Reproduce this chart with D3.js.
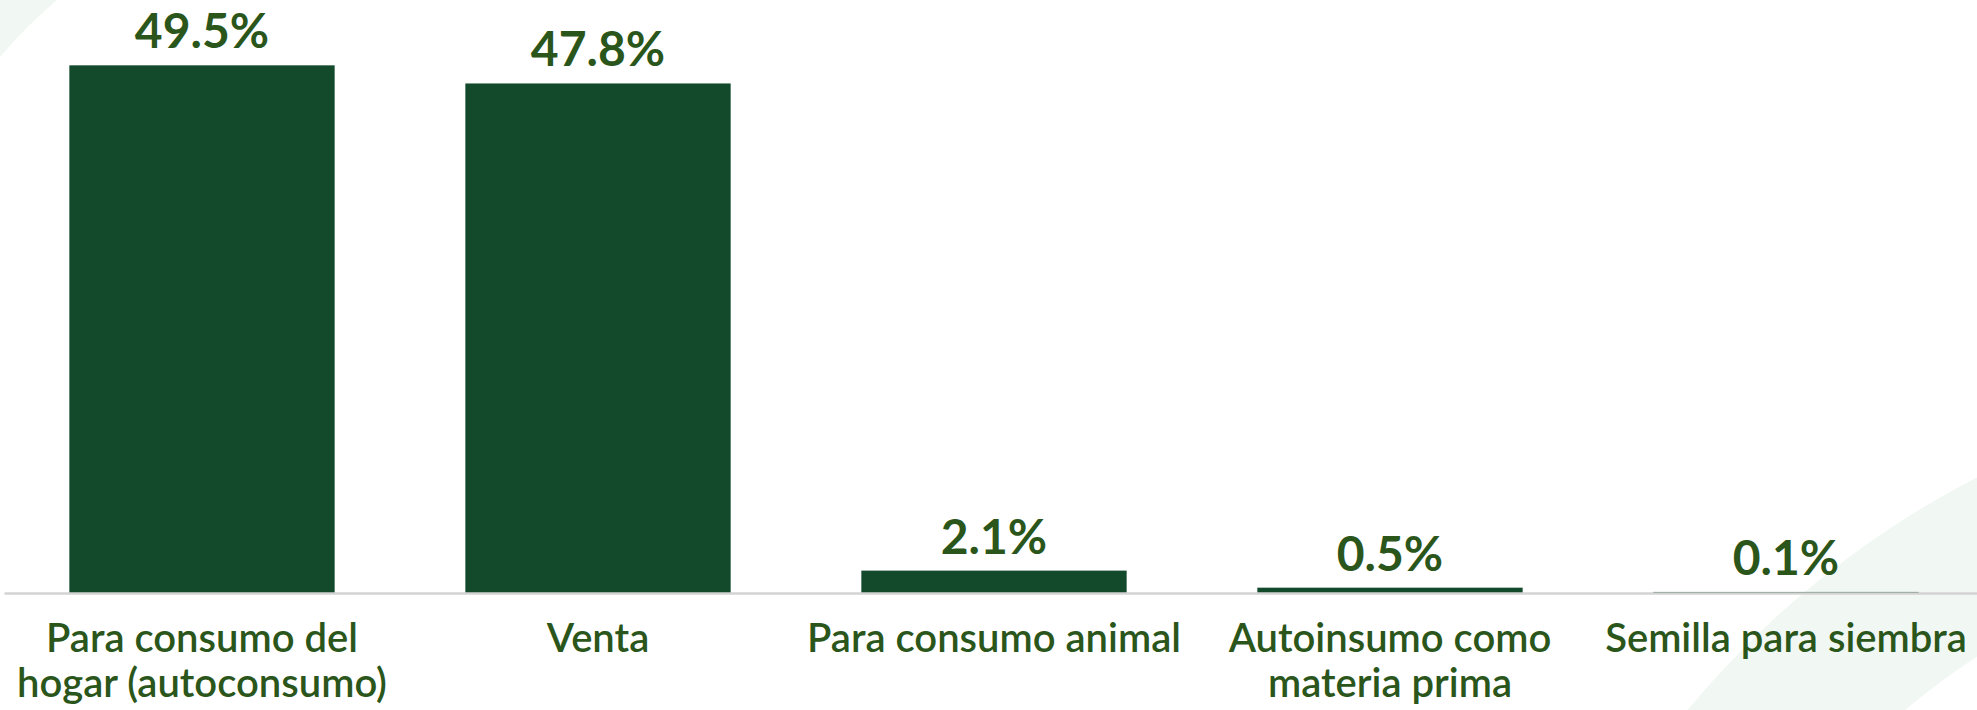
<!DOCTYPE html>
<meta charset="utf-8">
<script src="https://d3js.org/d3.v7.min.js"></script>
<style>
  body { margin: 0; background: #fff; }
  svg { display: block; font-family: Lato, "Open Sans", sans-serif; }
</style>
<div id="my_dataviz"></div>
<script>

// data
var categories = ["Para consumo del hogar (autoconsumo)", "Venta", "Para consumo animal", "Autoinsumo como materia prima", "Semilla para siembra"]
var values = [49.5, 47.8, 2.1, 0.5, 0.1]
var valueLabels = ["49.5%", "47.8%", "2.1%", "0.5%", "0.1%"]

var width = 1977,
    height = 710,
    baseline = 593

var svg = d3.select("#my_dataviz")
  .append("svg")
    .attr("width", width)
    .attr("height", height)

// faint decorative rings in the corners
var ring = d3.arc()
svg.append("path")
  .attr("transform", "translate(400,400)")
  .attr("d", ring({innerRadius: 527, outerRadius: 760, startAngle: -Math.PI / 2, endAngle: 0}))
  .attr("fill", "#f1f7f3")
svg.append("path")
  .attr("transform", "translate(2400,1300)")
  .attr("d", ring({innerRadius: 770, outerRadius: 925, startAngle: -Math.PI / 2, endAngle: 0}))
  .attr("fill", "#f1f7f3")

// scales
var x = d3.scaleBand()
  .domain(categories)
  .range([4, 1984])
  .paddingInner(0.33)
  .paddingOuter(0.165)

var y = d3.scaleLinear()
  .domain([0, 50])
  .range([baseline, 60])

// bars
svg.selectAll("rect.bar")
  .data(values)
  .enter()
  .append("rect")
    .attr("class", "bar")
    .attr("x", function(d, i) { return x(categories[i]) })
    .attr("width", x.bandwidth())
    .attr("y", function(d) { return y(d) })
    .attr("height", function(d) { return baseline - y(d) })
    .attr("fill", "#134a2b")

// value labels
svg.selectAll("text.val")
  .data(values)
  .enter()
  .append("text")
    .attr("class", "val")
    .attr("x", function(d, i) { return x(categories[i]) + x.bandwidth() / 2 })
    .attr("y", function(d) { return y(d) - 17 })
    .attr("text-anchor", "middle")
    .style("font-size", "48px")
    .style("font-weight", "bold")
    .attr("fill", "#2b561b")
    .text(function(d, i) { return valueLabels[i] })

// x axis
var axis = svg.append("g")
  .attr("transform", "translate(0," + baseline + ")")
  .call(d3.axisBottom(x).tickSize(0).tickPadding(31))

axis.select(".domain")
  .attr("stroke", "#d3d3d3")
  .attr("stroke-width", 2.5)

axis.selectAll(".tick text")
  .attr("fill", "#2b561b")
  .style("font-size", "40px")
  .style("font-weight", "600")
  .style("font-family", "Lato, 'Open Sans', sans-serif")
  .call(wrap, 400)

function wrap(text, w) {
  text.each(function() {
    var t = d3.select(this),
        words = t.text().split(/\s+/),
        yy = t.attr("y"),
        line = [],
        lineNo = 0
    t.text(null)
    var tspan = t.append("tspan").attr("x", 0).attr("y", yy).attr("dy", "0.71em")
    words.forEach(function(word) {
      line.push(word)
      tspan.text(line.join(" "))
      if (tspan.node().getComputedTextLength() > w && line.length > 1) {
        line.pop()
        tspan.text(line.join(" "))
        line = [word]
        lineNo++
        tspan = t.append("tspan").attr("x", 0).attr("y", yy)
          .attr("dy", (0.71 + lineNo * 1.12) + "em").text(word)
      }
    })
  })
}

</script>
